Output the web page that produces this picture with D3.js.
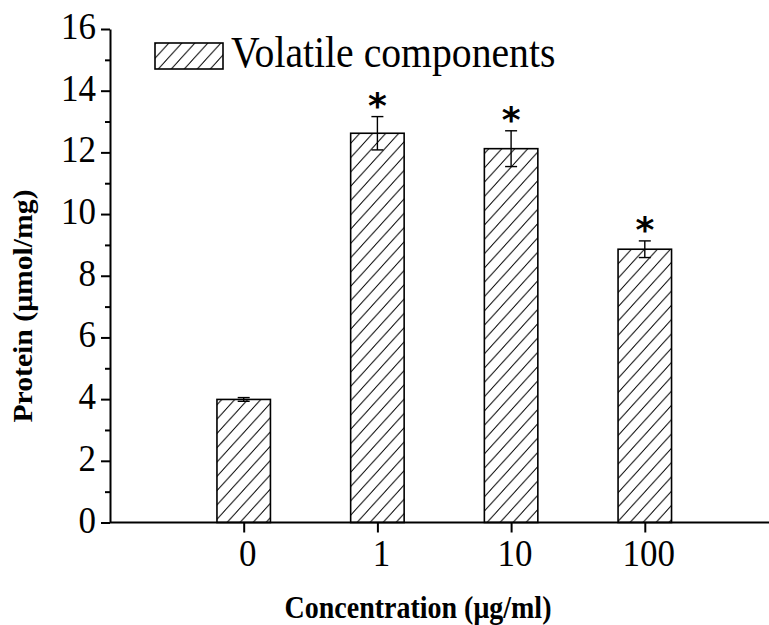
<!DOCTYPE html>
<html>
<head>
<meta charset="utf-8">
<script src="https://cdn.jsdelivr.net/npm/d3@7"></script>
<style>
  html, body { margin: 0; padding: 0; background: #fff; }
  svg { display: block; }
</style>
</head>
<body>
<script>
// ---- data ----
const categories = ["0", "1", "10", "100"];
const values = [3.99, 12.62, 12.12, 8.86];
const errors = [0.06, 0.54, 0.58, 0.27];
const significant = [false, true, true, true];
const yMajorTicks = [0, 2, 4, 6, 8, 10, 12, 14, 16];
const yMinorTicks = [1, 3, 5, 7, 9, 11, 13, 15];
const seriesName = "Volatile components";
const xTitle = "Concentration (\u03bcg/ml)";
const yTitle = "Protein (\u03bcmol/mg)";

// ---- layout ----
const W = 769, H = 625;
const SERIF = "'Liberation Serif', 'Times New Roman', serif";
const STRETCH = 1.1;

const svg = d3.select("body").append("svg").attr("width", W).attr("height", H);

const defs = svg.append("defs");
const pat = defs.append("pattern")
  .attr("id", "hatch")
  .attr("patternUnits", "userSpaceOnUse")
  .attr("width", 13).attr("height", 14.3);
pat.append("path")
  .attr("d", "M-1,1.1 L1,-1.1 M0,14.3 L13,0 M12,15.4 L14,13.2")
  .attr("stroke", "#000").attr("stroke-width", 1).attr("fill", "none");

const x = d3.scalePoint().domain(categories).range([110, 778.5]).padding(1);
const y = d3.scaleLinear().domain([0, 16]).range([522.5, 29]);
const barW = x.step() * 0.4;

// bars
const bars = svg.append("g");
bars.selectAll("rect").data(categories).join("rect")
  .attr("x", d => x(d) - barW / 2)
  .attr("y", (d, i) => y(values[i]))
  .attr("width", barW)
  .attr("height", (d, i) => y(0) - y(values[i]))
  .attr("fill", "url(#hatch)")
  .attr("stroke", "#000").attr("stroke-width", 1.6);

// error bars
const eg = svg.append("g").attr("stroke", "#000").attr("stroke-width", 1.4);
categories.forEach((c, i) => {
  const cx = x(c), t = y(values[i] + errors[i]), b = y(values[i] - errors[i]);
  eg.append("line").attr("x1", cx).attr("x2", cx).attr("y1", t).attr("y2", b);
  eg.append("line").attr("x1", cx - 6).attr("x2", cx + 6).attr("y1", t).attr("y2", t);
  eg.append("line").attr("x1", cx - 6).attr("x2", cx + 6).attr("y1", b).attr("y2", b);
});

// asterisks
categories.forEach((c, i) => {
  if (!significant[i]) return;
  svg.append("text")
    .attr("transform", `translate(${x(c)},${y(values[i] + errors[i]) + 1.5})`)
    .attr("text-anchor", "middle")
    .attr("font-family", "'DejaVu Sans', sans-serif")
    .attr("font-weight", "bold")
    .attr("font-size", 36)
    .text("*");
});

// y axis
const yAxisG = svg.append("g").attr("transform", "translate(110,0)");
yAxisG.call(d3.axisLeft(y).tickValues(yMajorTicks).tickSize(9).tickSizeOuter(0).tickFormat(""));
yAxisG.append("g").call(d3.axisLeft(y).tickValues(yMinorTicks).tickSize(5).tickSizeOuter(0).tickFormat(""))
  .select(".domain").remove();
yAxisG.selectAll("path, line").attr("stroke", "#000").attr("stroke-width", 2);

yMajorTicks.forEach(v => {
  svg.append("text")
    .attr("transform", `translate(96,${y(v) + 10}) scale(1,${STRETCH})`)
    .attr("text-anchor", "end")
    .attr("font-family", SERIF).attr("font-size", 35)
    .text(v);
});

// x axis
const xAxisG = svg.append("g").attr("transform", `translate(0,${y(0)})`);
xAxisG.call(d3.axisBottom(x).tickSize(10).tickSizeOuter(0).tickFormat(""));
xAxisG.select(".domain").attr("d", `M110,0H${W + 10}`);
xAxisG.selectAll("path, line").attr("stroke", "#000").attr("stroke-width", 2);

categories.forEach(c => {
  svg.append("text")
    .attr("transform", `translate(${x(c) + 4},566) scale(1,${STRETCH})`)
    .attr("text-anchor", "middle")
    .attr("font-family", SERIF).attr("font-size", 35)
    .text(c);
});

// titles
svg.append("text")
  .attr("transform", `translate(418,618) scale(1,${STRETCH})`)
  .attr("text-anchor", "middle")
  .attr("font-family", SERIF).attr("font-weight", "bold").attr("font-size", 28)
  .text(xTitle);

svg.append("text")
  .attr("transform", `translate(32,306) rotate(-90) scale(${STRETCH},1)`)
  .attr("text-anchor", "middle")
  .attr("font-family", SERIF).attr("font-weight", "bold").attr("font-size", 27)
  .text(yTitle);

// legend
svg.append("rect")
  .attr("x", 155).attr("y", 43).attr("width", 68).attr("height", 26)
  .attr("fill", "url(#hatch)").attr("stroke", "#000").attr("stroke-width", 1.6);
svg.append("text")
  .attr("transform", `translate(231,67) scale(1,${STRETCH})`)
  .attr("font-family", SERIF).attr("font-size", 39.7)
  .text(seriesName);
</script>
</body>
</html>
